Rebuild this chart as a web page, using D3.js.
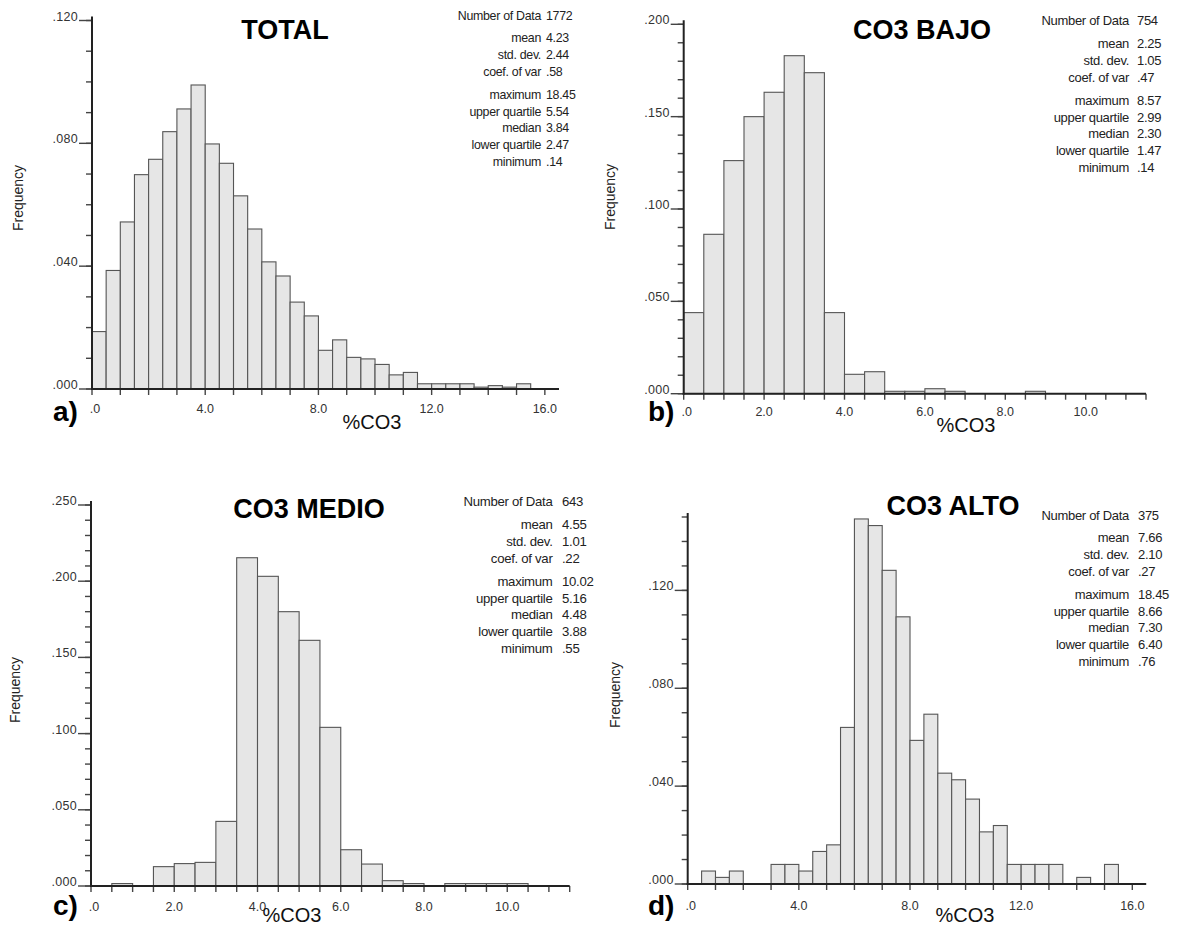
<!DOCTYPE html>
<html><head><meta charset="utf-8">
<script src="https://cdn.jsdelivr.net/npm/d3@7/dist/d3.min.js"></script>
<style>body{margin:0;background:#fff}svg{display:block}text{font-family:"Liberation Sans",Arial,sans-serif}</style>
</head><body><svg id="c" width="1181" height="928"></svg>
<script>
// ---- data ----
const binWidth = 0.5;
const freqTotal = [0.0187,0.0386,0.0544,0.0698,0.0748,0.0838,0.0912,0.0990,0.0798,0.0735,0.0629,0.0521,0.0414,0.0368,0.0283,0.0238,0.0126,0.0160,0.0103,0.0098,0.0080,0.0046,0.0054,0.0017,0.0017,0.0017,0.0017,0.0006,0.0011,0.0006,0.0017,0,0];
const freqBajo = [0.0439,0.0863,0.1262,0.1500,0.1632,0.1830,0.1738,0.0439,0.0105,0.0119,0.0013,0.0013,0.0027,0.0013,0,0,0,0.0013,0,0,0,0,0];
const freqMedio = [0,0.0016,0,0.0127,0.0147,0.0155,0.0424,0.2154,0.2032,0.1800,0.1612,0.1041,0.0238,0.0144,0.0035,0.0016,0,0.0016,0.0016,0.0016,0.0016,0,0];
const freqAlto = [0,0.0053,0.0027,0.0053,0,0,0.0080,0.0080,0.0053,0.0133,0.0160,0.0640,0.1492,0.1465,0.1282,0.1092,0.0587,0.0694,0.0453,0.0426,0.0347,0.0213,0.0239,0.0080,0.0080,0.0080,0.0080,0,0.0027,0,0.0080,0,0];
const titles = ["TOTAL","CO3 BAJO","CO3 MEDIO","CO3 ALTO"];
const panelTags = ["a)","b)","c)","d)"];
const statLabels = ["Number of Data","mean","std. dev.","coef. of var","maximum","upper quartile","median","lower quartile","minimum"];
const statsTotal = ["1772","4.23","2.44",".58","18.45","5.54","3.84","2.47",".14"];
const statsBajo = ["754","2.25","1.05",".47","8.57","2.99","2.30","1.47",".14"];
const statsMedio = ["643","4.55","1.01",".22","10.02","5.16","4.48","3.88",".55"];
const statsAlto = ["375","7.66","2.10",".27","18.45","8.66","7.30","6.40",".76"];
const xMaxes = [16.5, 11.5, 11.5, 16.5];
const yMaxes = [0.12, 0.20, 0.25, 0.15];
const yLabelTicks = [[0,0.04,0.08,0.12],[0,0.05,0.10,0.15,0.20],[0,0.05,0.10,0.15,0.20,0.25],[0,0.04,0.08,0.12]];
const xLabelTicks = [[0,4,8,12,16],[0,2,4,6,8,10],[0,2,4,6,8,10],[0,4,8,12,16]];
const xMinorStep = [1, 0.5, 0.5, 1];
const yMinorStep = [0.01, 0.01, 0.01, 0.01];
const xAxisLabel = "%CO3";
const yAxisLabel = "Frequency";

// ---- layout (pixels) ----
const layout = [
  {x0:92, x1:559, y0:389, y1:20.5, titleX:285, titleY:39, tagX:53, tagY:421, xlabX:372, xlabY:429, xtY:413, freqX:18, freqY:198, sR:541, sV:546, sY:19.5, sFont:12.4},
  {x0:683.7, x1:1146, y0:393.7, y1:24.3, titleX:922, titleY:39, tagX:648, tagY:421, xlabX:966, xlabY:432, xtY:416, freqX:610, freqY:197, sR:1129, sV:1137, sY:25, sFont:13},
  {x0:91, x1:569.7, y0:886, y1:505, titleX:309, titleY:518, tagX:53, tagY:915, xlabX:292, xlabY:922, xtY:911, freqX:15, freqY:690, sR:552.5, sV:562, sY:506, sFont:13.2},
  {x0:687.7, x1:1146.2, y0:884, y1:517, titleX:953, titleY:515, tagX:648, tagY:915, xlabX:965, xlabY:922, xtY:910, freqX:615, freqY:695, sR:1129, sV:1138, sY:519.5, sFont:13}
];
const statOffsets = [0,22.5,39.5,56.5,79.5,96.5,112.5,129.5,146.5];

const freqs = [freqTotal, freqBajo, freqMedio, freqAlto];
const stats = [statsTotal, statsBajo, statsMedio, statsAlto];
const svg = d3.select("#c");
const fmtY = v => d3.format(".3f")(v).replace(/^0/, "");
const fmtX = v => d3.format(".1f")(v).replace(/^0/, "");

freqs.forEach((data, i) => {
  const L = layout[i];
  const x = d3.scaleLinear().domain([0, xMaxes[i]]).range([L.x0, L.x1]);
  const y = d3.scaleLinear().domain([0, yMaxes[i]]).range([L.y0, L.y1]);
  const g = svg.append("g");
  const bins = data.map((v, k) => ({x0: k*binWidth, x1: (k+1)*binWidth, v}));
  g.selectAll("rect.bar").data(bins).enter().append("rect").attr("class", "bar")
    .attr("x", d => x(d.x0)).attr("width", d => x(d.x1) - x(d.x0))
    .attr("y", d => y(d.v)).attr("height", d => y(0) - y(d.v))
    .attr("fill", "#e6e6e6").attr("stroke", "#555").attr("stroke-width", 1.1);

  // y ticks
  const yMinor = d3.range(0, yMaxes[i] + 1e-9, yMinorStep[i]);
  g.selectAll("line.ymin").data(yMinor).enter().append("line").attr("class", "ymin")
    .attr("x1", L.x0 - 6).attr("x2", L.x0).attr("y1", d => y(d)).attr("y2", d => y(d))
    .attr("stroke", "#444").attr("stroke-width", 1.4);
  g.selectAll("line.ymaj").data(yLabelTicks[i]).enter().append("line").attr("class", "ymaj")
    .attr("x1", L.x0 - 13).attr("x2", L.x0).attr("y1", d => y(d)).attr("y2", d => y(d))
    .attr("stroke", "#444").attr("stroke-width", 1.4);
  g.selectAll("text.yt").data(yLabelTicks[i]).enter().append("text").attr("class", "yt")
    .attr("x", L.x0 - 14).attr("y", d => y(d)).attr("text-anchor", "end")
    .attr("font-size", 12.5).attr("letter-spacing", 0.3).attr("fill", "#333").text(fmtY);
  g.append("line").attr("x1", L.x0).attr("x2", L.x0).attr("y1", y(yMaxes[i]) - 4).attr("y2", y(0) + 1)
    .attr("stroke", "#222").attr("stroke-width", 2);

  // x ticks
  const xMinor = d3.range(0, xMaxes[i] + 1e-9, xMinorStep[i]);
  g.selectAll("line.xmin").data(xMinor).enter().append("line").attr("class", "xmin")
    .attr("x1", d => x(d)).attr("x2", d => x(d)).attr("y1", L.y0).attr("y2", L.y0 + 6)
    .attr("stroke", "#444").attr("stroke-width", 1.4);
  g.append("line").attr("x1", x(0) - 1).attr("x2", x(xMaxes[i])).attr("y1", L.y0).attr("y2", L.y0)
    .attr("stroke", "#222").attr("stroke-width", 2);
  g.selectAll("text.xt").data(xLabelTicks[i]).enter().append("text").attr("class", "xt")
    .attr("x", d => x(d) + (d === 0 ? 3 : 0)).attr("y", L.xtY).attr("text-anchor", "middle")
    .attr("font-size", 12.5).attr("fill", "#333").text(fmtX);

  // titles and labels
  g.append("text").attr("x", L.titleX).attr("y", L.titleY).attr("text-anchor", "middle")
    .attr("font-size", 27).attr("font-weight", "bold").attr("fill", "#000").text(titles[i]);
  g.append("text").attr("x", L.tagX).attr("y", L.tagY).attr("font-size", 28)
    .attr("font-weight", "bold").attr("fill", "#000").text(panelTags[i]);
  g.append("text").attr("x", L.xlabX).attr("y", L.xlabY).attr("text-anchor", "middle")
    .attr("font-size", 20).attr("fill", "#111").text(xAxisLabel);
  g.append("text").attr("transform", `translate(${L.freqX + 5},${L.freqY}) rotate(-90)`)
    .attr("text-anchor", "middle").attr("font-size", 14).attr("fill", "#222").text(yAxisLabel);

  // stats
  statLabels.forEach((lab, k) => {
    g.append("text").attr("x", L.sR).attr("y", L.sY + statOffsets[k]).attr("text-anchor", "end")
      .attr("font-size", L.sFont).attr("letter-spacing", -0.3).attr("fill", "#222").text(lab);
    g.append("text").attr("x", L.sV).attr("y", L.sY + statOffsets[k])
      .attr("font-size", L.sFont).attr("letter-spacing", -0.3).attr("fill", "#222").text(stats[i][k]);
  });
});
</script></body></html>
